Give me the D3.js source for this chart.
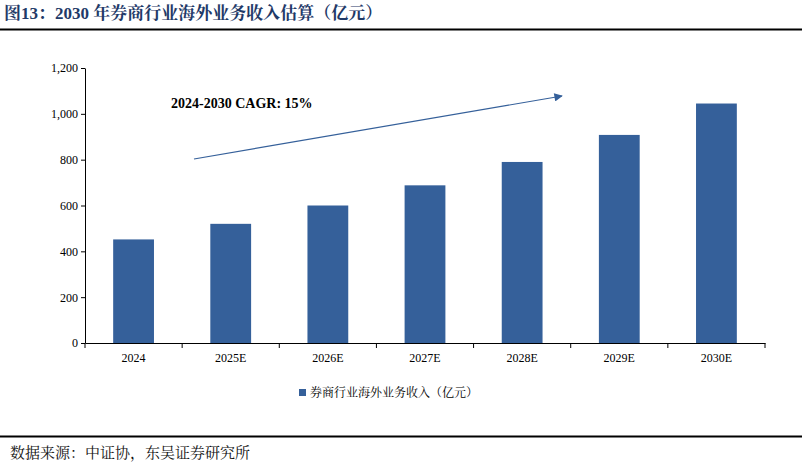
<!DOCTYPE html>
<html><head><meta charset="utf-8">
<script src="https://cdn.jsdelivr.net/npm/d3@7"></script>
<style>body{margin:0;background:#fff}svg{display:block}</style>
</head><body>
<svg id="c" width="802" height="463"></svg>
<script>
// 2030 overseas revenue estimate (亿元)
const categories = ["2024", "2025E", "2026E", "2027E", "2028E", "2029E", "2030E"];
const revenue = [452, 520, 600, 688, 790, 908, 1045];
const yTicks = [0, 200, 400, 600, 800, 1000, 1200];
const seriesName = "券商行业海外业务收入（亿元）";

const svg = d3.select("#c");
const serif = "'Times New Roman','Liberation Serif','Noto Serif CJK SC','Noto Sans CJK SC',serif";
const cjk = "'Noto Serif CJK SC','Noto Sans CJK SC',serif";
const BAR = "#35609A";

svg.append("text").attr("x", 4).attr("y", 19)
  .attr("font-family", serif).attr("font-weight", "bold").attr("font-size", 17)
  .attr("fill", "#1F3A68").text("图13：2030 年券商行业海外业务收入估算（亿元）");
svg.append("line").attr("x1", 0).attr("x2", 802).attr("y1", 29.5).attr("y2", 29.5)
  .attr("stroke", "#000").attr("stroke-width", 2);
svg.append("line").attr("x1", 0).attr("x2", 802).attr("y1", 436.5).attr("y2", 436.5)
  .attr("stroke", "#000").attr("stroke-width", 2);
svg.append("text").attr("x", 10).attr("y", 458)
  .attr("font-family", cjk).attr("font-size", 15).attr("fill", "#111")
  .text("数据来源：中证协，东吴证券研究所");

const x = d3.scaleBand().domain(categories).range([85, 765]).paddingInner(0.58).paddingOuter(0.29);
const y = d3.scaleLinear().domain([0, 1200]).range([343, 68]);

const yAxis = svg.append("g").attr("transform", "translate(85,0)")
  .call(d3.axisLeft(y).tickValues(yTicks).tickSize(4).tickSizeOuter(0));
const xAxis = svg.append("g").attr("transform", "translate(0,343)")
  .call(d3.axisBottom(x).tickSize(0).tickPadding(10));
[yAxis, xAxis].forEach(g => {
  g.select(".domain").attr("stroke", "#000");
  g.selectAll("line").attr("stroke", "#000");
  g.selectAll("text").attr("font-family", serif).attr("font-size", 12).attr("fill", "#000");
});
// category separator ticks
const step = x.step();
xAxis.selectAll(".sep").data(d3.range(categories.length + 1)).join("line")
  .attr("x1", i => 85 + i * (680 / categories.length)).attr("x2", i => 85 + i * (680 / categories.length))
  .attr("y1", 0).attr("y2", 5).attr("stroke", "#000");

svg.append("g").selectAll("rect").data(categories).join("rect")
  .attr("x", d => x(d)).attr("width", x.bandwidth())
  .attr("y", (d, i) => y(revenue[i])).attr("height", (d, i) => 343 - y(revenue[i]))
  .attr("fill", BAR);

// CAGR annotation
svg.append("defs").append("marker").attr("id", "ah").attr("viewBox", "0 0 10 10")
  .attr("refX", 9).attr("refY", 5).attr("markerWidth", 9).attr("markerHeight", 7).attr("orient", "auto")
  .append("path").attr("d", "M0,0L10,5L0,10z").attr("fill", BAR);
svg.append("line").attr("x1", 194).attr("y1", 159).attr("x2", 562).attr("y2", 96)
  .attr("stroke", BAR).attr("stroke-width", 1.2).attr("marker-end", "url(#ah)");
svg.append("text").attr("x", 171).attr("y", 108)
  .attr("font-family", serif).attr("font-weight", "bold").attr("font-size", 14)
  .attr("fill", "#000").text("2024-2030 CAGR:   15%");

// legend
svg.append("rect").attr("x", 299).attr("y", 389).attr("width", 7).attr("height", 7).attr("fill", BAR);
svg.append("text").attr("x", 310).attr("y", 397)
  .attr("font-family", cjk).attr("font-size", 12).attr("fill", "#000").text(seriesName);
</script>
</body></html>
